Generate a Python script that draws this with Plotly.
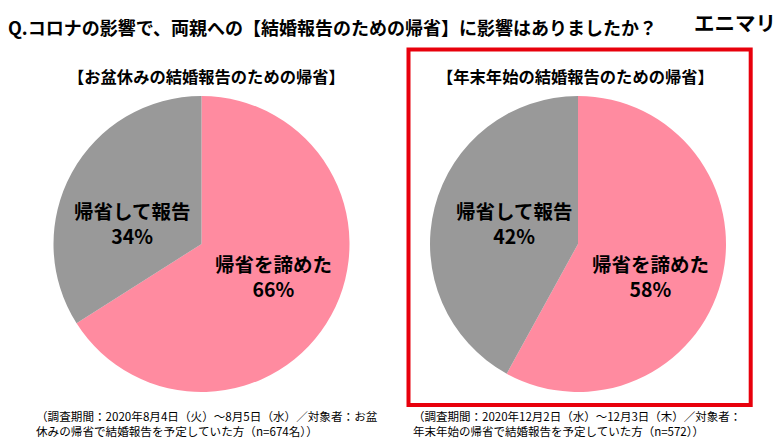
import plotly.graph_objects as go

title_text = "Q.コロナの影響で、両親への【結婚報告のための帰省】に影響はありましたか\uff1f"
brand = "エニマリ"
left_title = "【お盆休みの結婚報告のための帰省】"
right_title = "【年末年始の結婚報告のための帰省】"
categories = ["帰省を諦めた", "帰省して報告"]
left_values = [66, 34]
right_values = [58, 42]
colors = ["#FF8BA0", "#999999"]
left_note = "\uff08調査期間\uff1a2020年8月4日\uff08火\uff09〜8月5日\uff08水\uff09\uff0f対象者\uff1aお盆<br>休みの帰省で結婚報告を予定していた方\uff08n=674名\uff09\uff09"
right_note = "\uff08調査期間\uff1a2020年12月2日\uff08水\uff09〜12月3日\uff08木\uff09\uff0f対象者\uff1a<br>年末年始の帰省で結婚報告を予定していた方\uff08n=572\uff09\uff09"

W, H = 780, 441
FONT = "Noto Sans CJK JP"

def xd(px):
    return px / W

def yd(px):
    return 1 - px / H

def pie(vals, x0, x1, y0, y1):
    return go.Pie(
        labels=categories, values=vals, sort=False, direction="clockwise", rotation=0,
        marker=dict(colors=colors, line=dict(width=0)),
        textinfo="none", hoverinfo="label+percent", showlegend=False,
        domain=dict(x=[xd(x0), xd(x1)], y=[yd(y1), yd(y0)]),
    )

fig = go.Figure([
    pie(left_values, 53, 350, 96, 392),
    pie(right_values, 430, 726, 96, 392),
])

def label(px, py, text, size, anchor="center", color="#000", bold=False):
    t = f"<b>{text}</b>" if bold else text
    fig.add_annotation(x=xd(px), y=yd(py), xref="paper", yref="paper", text=t, showarrow=False,
                       xanchor=anchor, yanchor="middle", align="left" if anchor == "left" else "center",
                       font=dict(size=size, color=color, family=FONT),
                       borderpad=0, borderwidth=0)

label(8, 27, title_text, 18, "left", bold=True)
label(735, 22.5, brand, 20.5, "center", bold=True)
label(206.5, 76, left_title, 16.3, bold=True)
label(575, 76, right_title, 16.3, bold=True)
label(273, 275.5, f"{categories[0]}<br>{left_values[0]}%", 19.5, bold=True)
label(132, 222.5, f"{categories[1]}<br>{left_values[1]}%", 19.5, bold=True)
label(650.5, 275.5, f"{categories[0]}<br>{right_values[0]}%", 19.5, bold=True)
label(513.5, 222.5, f"{categories[1]}<br>{right_values[1]}%", 19.5, bold=True)
label(36, 423, left_note, 11.6, "left")
label(413, 423, right_note, 11.5, "left")

fig.add_shape(type="rect", xref="paper", yref="paper", x0=xd(408.5), x1=xd(750.7), y0=yd(405), y1=yd(49.5),
              line=dict(color="#E8000C", width=4), fillcolor="rgba(0,0,0,0)")

fig.update_layout(width=W, height=H, margin=dict(l=0, r=0, t=0, b=0), paper_bgcolor="#fff",
                  font=dict(family=FONT))
fig.write_html("out.html", config=dict(displayModeBar=False),
               post_script="document.body.style.margin='0';document.body.style.overflow='hidden';")
